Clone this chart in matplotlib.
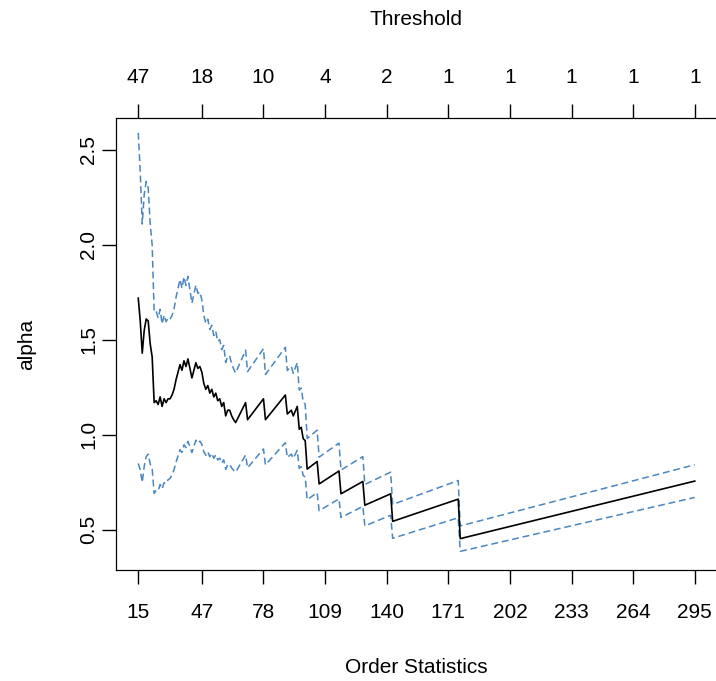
import matplotlib
matplotlib.use("Agg")
import matplotlib.pyplot as plt

plt.rcParams['font.family'] = ['Liberation Sans', 'DejaVu Sans']

# order statistics (k) at the vertices of the Hill curve
k = [15, 16, 17, 18, 19, 20, 21, 22, 23, 24, 25, 26, 27, 28, 29, 30, 31, 32, 33, 34,
     35, 36, 37, 38, 39, 40, 41, 42, 43, 44, 45, 46, 47, 48, 49, 50, 51, 52, 53, 54,
     55, 56, 57, 58, 59, 60, 61, 62, 63, 64, 69, 70, 78, 79, 89, 90, 92, 93, 95, 96,
     97, 98, 99, 100, 105, 106, 116, 117, 128, 129, 142, 143, 176, 177, 295]

alpha = [1.72, 1.60, 1.43, 1.55, 1.61, 1.60, 1.48, 1.41, 1.17, 1.18, 1.16, 1.20, 1.15, 1.19,
         1.17, 1.19, 1.19, 1.21, 1.24, 1.29, 1.33, 1.37, 1.34, 1.39, 1.36, 1.40, 1.35, 1.30,
         1.34, 1.38, 1.35, 1.36, 1.33, 1.27, 1.24, 1.26, 1.22, 1.24, 1.20, 1.22, 1.18, 1.19,
         1.15, 1.17, 1.10, 1.13, 1.13, 1.10, 1.08, 1.065, 1.17, 1.08, 1.19, 1.08, 1.21, 1.11,
         1.13, 1.10, 1.15, 1.03, 1.04, 0.98, 0.97, 0.82, 0.86, 0.742, 0.81, 0.69, 0.755, 0.63,
         0.69, 0.545, 0.662, 0.454, 0.757]

upper = [2.590, 2.384, 2.110, 2.266, 2.334, 2.301, 2.113, 1.999, 1.648, 1.652, 1.615, 1.661,
         1.584, 1.631, 1.596, 1.616, 1.609, 1.629, 1.663, 1.724, 1.771, 1.818, 1.772, 1.832,
         1.787, 1.834, 1.763, 1.693, 1.741, 1.788, 1.745, 1.753, 1.710, 1.629, 1.587, 1.609,
         1.555, 1.577, 1.523, 1.545, 1.492, 1.502, 1.449, 1.471, 1.381, 1.416, 1.414, 1.374,
         1.347, 1.326, 1.446, 1.333, 1.454, 1.318, 1.461, 1.339, 1.361, 1.324, 1.381, 1.236,
         1.247, 1.174, 1.161, 0.981, 1.025, 0.883, 0.957, 0.815, 0.886, 0.739, 0.804, 0.634,
         0.760, 0.521, 0.843]

lower = [0.850, 0.816, 0.750, 0.834, 0.886, 0.899, 0.847, 0.821, 0.692, 0.708, 0.705, 0.739,
         0.716, 0.749, 0.744, 0.764, 0.771, 0.791, 0.817, 0.856, 0.889, 0.922, 0.908, 0.948,
         0.933, 0.966, 0.937, 0.907, 0.940, 0.972, 0.956, 0.967, 0.950, 0.911, 0.893, 0.911,
         0.885, 0.903, 0.877, 0.895, 0.868, 0.878, 0.852, 0.869, 0.819, 0.844, 0.846, 0.826,
         0.813, 0.804, 0.894, 0.827, 0.926, 0.842, 0.959, 0.881, 0.899, 0.877, 0.919, 0.824,
         0.833, 0.786, 0.779, 0.659, 0.696, 0.601, 0.663, 0.565, 0.624, 0.521, 0.577, 0.456,
         0.564, 0.387, 0.671]

x_ticks = [15, 47, 78, 109, 140, 171, 202, 233, 264, 295]
threshold_labels = ['47', '18', '10', '4', '2', '1', '1', '1', '1', '1']
y_ticks = [0.5, 1.0, 1.5, 2.0, 2.5]

fig = plt.figure(figsize=(7.16, 6.81), dpi=100)
ax = fig.add_axes([116 / 716, 1 - 570 / 681, 601 / 716, 452 / 681])

ci_color = '#4a86c0'
ax.plot(k, upper, color=ci_color, lw=1.1, dashes=(4.5, 2.5))
ax.plot(k, lower, color=ci_color, lw=1.1, dashes=(4.5, 2.5))
ax.plot(k, alpha, color='black', lw=1.2)

ax.set_xlim(3.8, 306.2)
ax.set_ylim(0.289, 2.668)
ax.set_xticks(x_ticks)
ax.set_xticklabels([str(v) for v in x_ticks])
ax.set_yticks(y_ticks)
ax.set_yticklabels([str(v) for v in y_ticks], rotation=90, va='center')
ax.tick_params(direction='out', length=10, width=1, labelsize=15, pad=14)
ax.tick_params(axis='y', pad=3)
ax.set_xlabel('Order Statistics', fontsize=15, labelpad=26)
ax.set_ylabel('alpha', fontsize=15, labelpad=31)

ax2 = ax.twiny()
ax2.set_xlim(ax.get_xlim())
ax2.set_xticks(x_ticks)
ax2.set_xticklabels(threshold_labels)
ax2.tick_params(direction='out', length=10, width=1, labelsize=15, pad=12)
ax2.set_xlabel('Threshold', fontsize=15, labelpad=31)

fig.savefig('out.png', dpi=100)
